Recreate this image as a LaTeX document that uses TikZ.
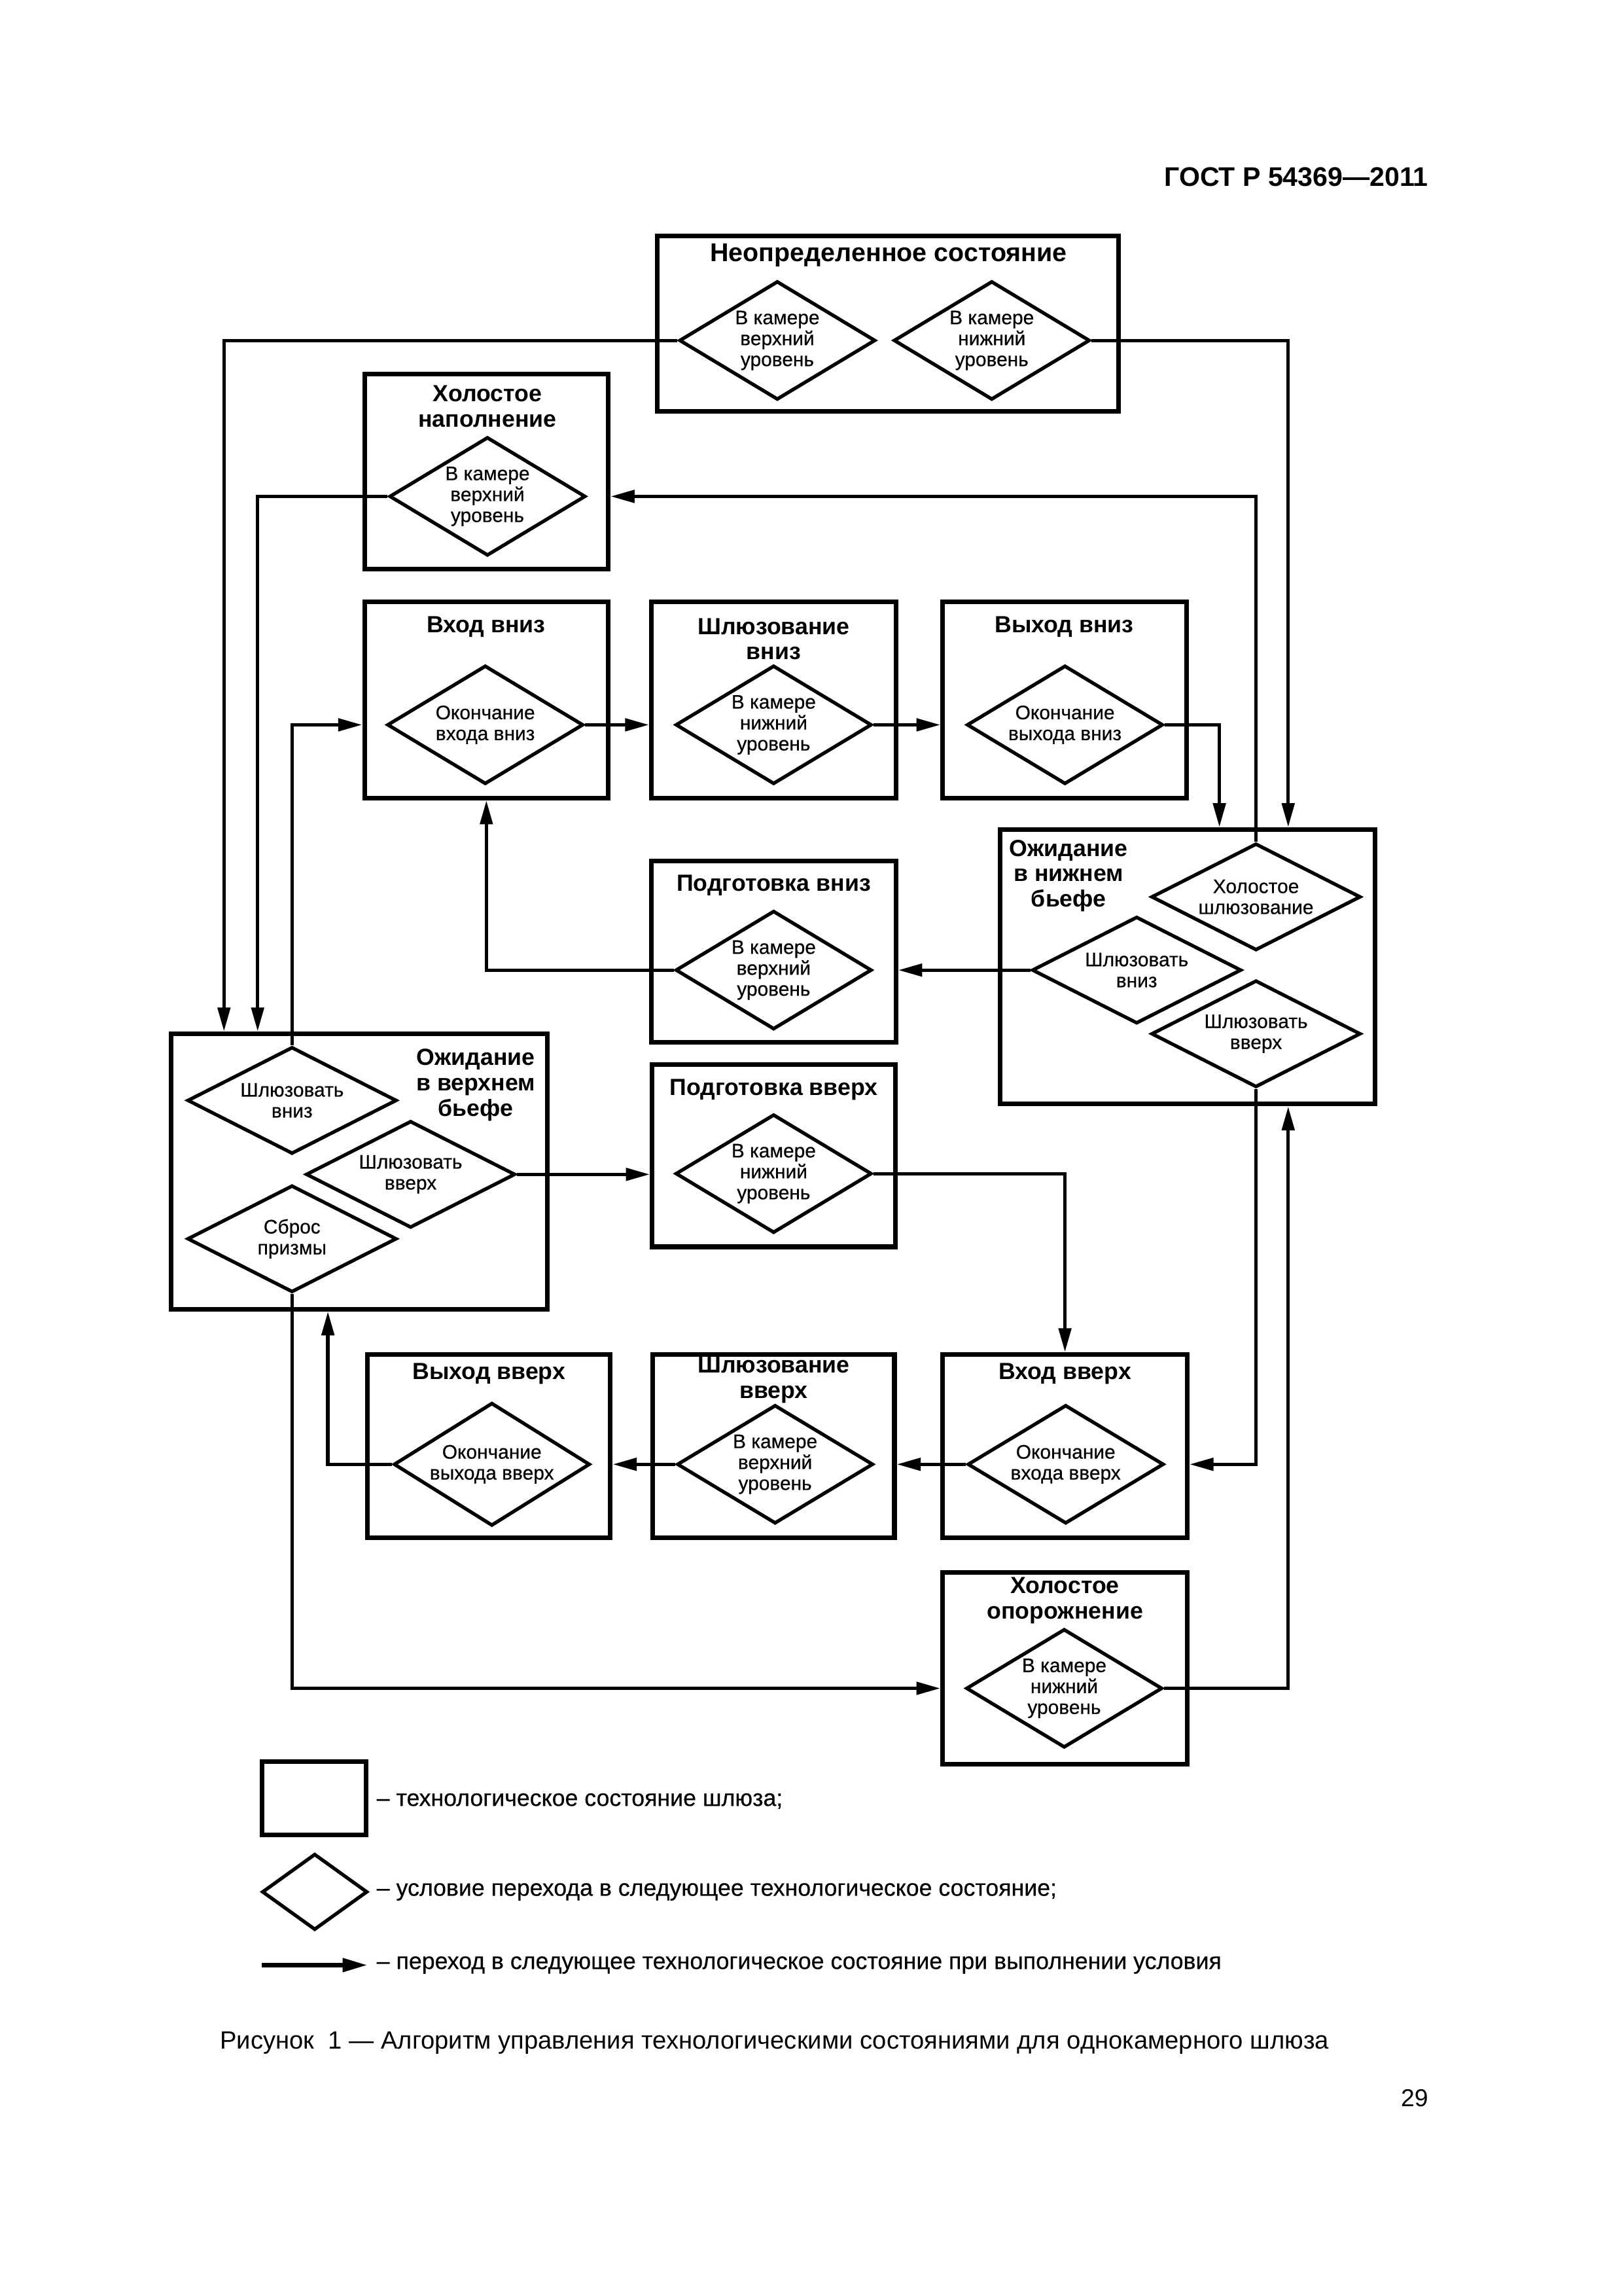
\documentclass[tikz,border=0pt]{standalone}
\usepackage{fontspec}
\setmainfont{Liberation Sans}
\newfontfamily\figfont{Liberation Sans}[FakeBold=0.5]
\usetikzlibrary{shapes.geometric,arrows.meta}
\newlength{\pxu}\setlength{\pxu}{0.18935mm}
\begin{document}
\begin{tikzpicture}[x=\pxu,y=-\pxu,
  stbox/.style={draw, line width=0.6mm, rectangle, inner sep=0pt},
  cond/.style={draw, line width=0.45mm, diamond, aspect=1.65, inner sep=0pt,
    minimum width=134\pxu, minimum height=81\pxu, align=center,
    font=\figfont\fontsize{7.2}{7.7}\selectfont},
  condw/.style={cond, aspect=1.96, minimum width=143\pxu, minimum height=73\pxu},
  ttl/.style={font=\bfseries\fontsize{8.6}{9.3}\selectfont, align=center, inner sep=0pt},
  conn/.style={line width=0.45mm, -{Triangle[length=3.1mm,width=1.6mm]}},
  lgtext/.style={font=\figfont\fontsize{8.6}{10}\selectfont, anchor=west, inner sep=0pt}]
\useasboundingbox[fill=white] (0,0) rectangle (1109,1568);

% header
\node[anchor=east, inner sep=0pt, font=\bfseries\fontsize{9.9}{12}\selectfont] (hdr) at (976,121) {ГОСТ Р 54369—2011};

% state boxes
\node[stbox, minimum width=315\pxu, minimum height=120\pxu] (neo) at (606.5,221) {};
\node[stbox, minimum width=166.5\pxu, minimum height=133\pxu] (holnap) at (332.25,322) {};
\node[stbox, minimum width=166.5\pxu, minimum height=134\pxu] (vhodvniz) at (332.25,478) {};
\node[stbox, minimum width=167\pxu, minimum height=134\pxu] (shlvniz) at (528.5,478) {};
\node[stbox, minimum width=166.5\pxu, minimum height=134\pxu] (vyhvniz) at (727.25,478) {};
\node[stbox, minimum width=167\pxu, minimum height=124\pxu] (podvniz) at (528.5,650) {};
\node[stbox, minimum width=256.5\pxu, minimum height=187.5\pxu] (ozhniz) at (811.25,660.25) {};
\node[stbox, minimum width=257\pxu, minimum height=188\pxu] (ozhverh) at (245.5,800) {};
\node[stbox, minimum width=166\pxu, minimum height=124.5\pxu] (podverh) at (528.5,789.25) {};
\node[stbox, minimum width=166\pxu, minimum height=125\pxu] (vyhverh) at (334,987.5) {};
\node[stbox, minimum width=165\pxu, minimum height=125\pxu] (shlverh) at (528.5,987.5) {};
\node[stbox, minimum width=167\pxu, minimum height=125\pxu] (vhodverh) at (727.5,987.5) {};
\node[stbox, minimum width=167\pxu, minimum height=131\pxu] (holop) at (727.5,1139.5) {};

% titles
\node[ttl, font=\bfseries\fontsize{9.5}{10}\selectfont] (neoT) at (607,174.5) {Неопределенное состояние};
\node[ttl] (holnapT) at (333,277.5) {Холостое\\наполнение};
\node[ttl] (vhodvnizT) at (332,428) {Вход вниз};
\node[ttl] (shlvnizT) at (528.5,436.5) {Шлюзование\\вниз};
\node[ttl] (vyhvnizT) at (727,428) {Выход вниз};
\node[ttl] (podvnizT) at (528.5,604.5) {Подготовка вниз};
\node[ttl] (ozhnizT) at (730,598) {Ожидание\\в нижнем\\бьефе};
\node[ttl] (ozhverhT) at (325,741) {Ожидание\\в верхнем\\бьефе};
\node[ttl] (podverhT) at (528.5,744) {Подготовка вверх};
\node[ttl] (vyhverhT) at (334,938) {Выход вверх};
\node[ttl] (shlverhT) at (528.5,942.5) {Шлюзование\\вверх};
\node[ttl] (vhodverhT) at (727.5,938) {Вход вверх};
\node[ttl] (holopT) at (727.5,1093) {Холостое\\опорожнение};

% conditions
\node[cond] (dneo1) at (531,232.5) {В камере\\верхний\\уровень};
\node[cond] (dneo2) at (677.5,232.5) {В камере\\нижний\\уровень};
\node[cond] (dholnap) at (333,339) {В камере\\верхний\\уровень};
\node[cond] (dvv) at (331.5,495) {Окончание\\входа вниз};
\node[cond] (dshv) at (528.5,495) {В камере\\нижний\\уровень};
\node[cond] (dvyv) at (727.5,495) {Окончание\\выхода вниз};
\node[cond] (dpv) at (528.5,662.5) {В камере\\верхний\\уровень};
\node[condw] (dholsh) at (858,612.5) {Холостое\\шлюзование};
\node[condw] (don2) at (776.5,662.5) {Шлюзовать\\вниз};
\node[condw] (don3) at (858,706) {Шлюзовать\\вверх};
\node[condw] (dov1) at (199.5,751.5) {Шлюзовать\\вниз};
\node[condw] (dov2) at (280.5,802) {Шлюзовать\\вверх};
\node[condw] (dsbros) at (199.5,846) {Сброс\\призмы};
\node[cond] (dpvv) at (528.5,801.5) {В камере\\нижний\\уровень};
\node[cond, minimum height=84\pxu] (dvyvv) at (336,1000) {Окончание\\выхода вверх};
\node[cond] (dshvv) at (529.5,1000) {В камере\\верхний\\уровень};
\node[cond] (dvhv) at (728,1000) {Окончание\\входа вверх};
\node[cond] (dhop) at (727,1153) {В камере\\нижний\\уровень};

% bend coordinates
\coordinate (c1) at (153,0);
\coordinate (c2) at (880,0);
\coordinate (c3) at (176,0);
\coordinate (c4) at (833,0);
\coordinate (c5) at (224,0);

% connectors
\draw[conn] (dneo1.west) -| (c1 |- ozhverh.north);
\draw[conn] (dneo2.east) -| (c2 |- ozhniz.north);
\draw[conn] (dholnap.west) -| (c3 |- ozhverh.north);
\draw[conn] (dholsh.north) |- (dholnap.east -| holnap.east);
\draw[conn] (dvv.east) -- (dvv.east -| shlvniz.west);
\draw[conn] (dshv.east) -- (dshv.east -| vyhvniz.west);
\draw[conn] (dvyv.east) -| (c4 |- ozhniz.north);
\draw[conn] (dov1.north) |- (dvv.west -| vhodvniz.west);
\draw[conn] (don2.west) -- (don2.west -| podvniz.east);
\draw[conn] (dpv.west) -| (vhodvniz.south);
\draw[conn] (dov2.east) -- (dov2.east -| podverh.west);
\draw[conn] (dpvv.east) -| (vhodverh.north);
\draw[conn] (don3.south) |- (dvhv.east -| vhodverh.east);
\draw[conn] (dvhv.west) -- (dvhv.west -| shlverh.east);
\draw[conn] (dshvv.west) -- (dshvv.west -| vyhverh.east);
\draw[conn] (dvyvv.west) -| (c5 |- ozhverh.south);
\draw[conn] (dsbros.south) |- (dhop.west -| holop.west);
\draw[conn] (dhop.east) -| (c2 |- ozhniz.south);

% legend
\node[stbox, minimum width=71\pxu, minimum height=50\pxu] (lgbox) at (214.5,1228) {};
\node[draw, line width=0.45mm, diamond, inner sep=0pt, minimum width=72\pxu, minimum height=52\pxu] (lgdia) at (215,1292) {};
\coordinate (lga) at (179,1342);
\coordinate (lgb) at (251,1342);
\draw[line width=0.55mm, -{Triangle[length=3.2mm,width=1.7mm]}] (lga) -- (lgb);
\node[lgtext] (lgt1) at (257,1230) {– технологическое состояние шлюза;};
\node[lgtext] (lgt2) at (257,1292) {– условие перехода в следующее технологическое состояние;};
\node[lgtext] (lgt3) at (257,1342) {– переход в следующее технологическое состояние при выполнении условия};

% caption and page number
\node[anchor=west, inner sep=0pt, font=\fontsize{9.2}{11}\selectfont] (cap) at (150,1395) {Рисунок\ \ 1 — Алгоритм управления технологическими состояниями для однокамерного шлюза};
\node[anchor=east, inner sep=0pt, font=\fontsize{9}{11}\selectfont] (pg) at (976,1433) {29};
\end{tikzpicture}
\end{document}
